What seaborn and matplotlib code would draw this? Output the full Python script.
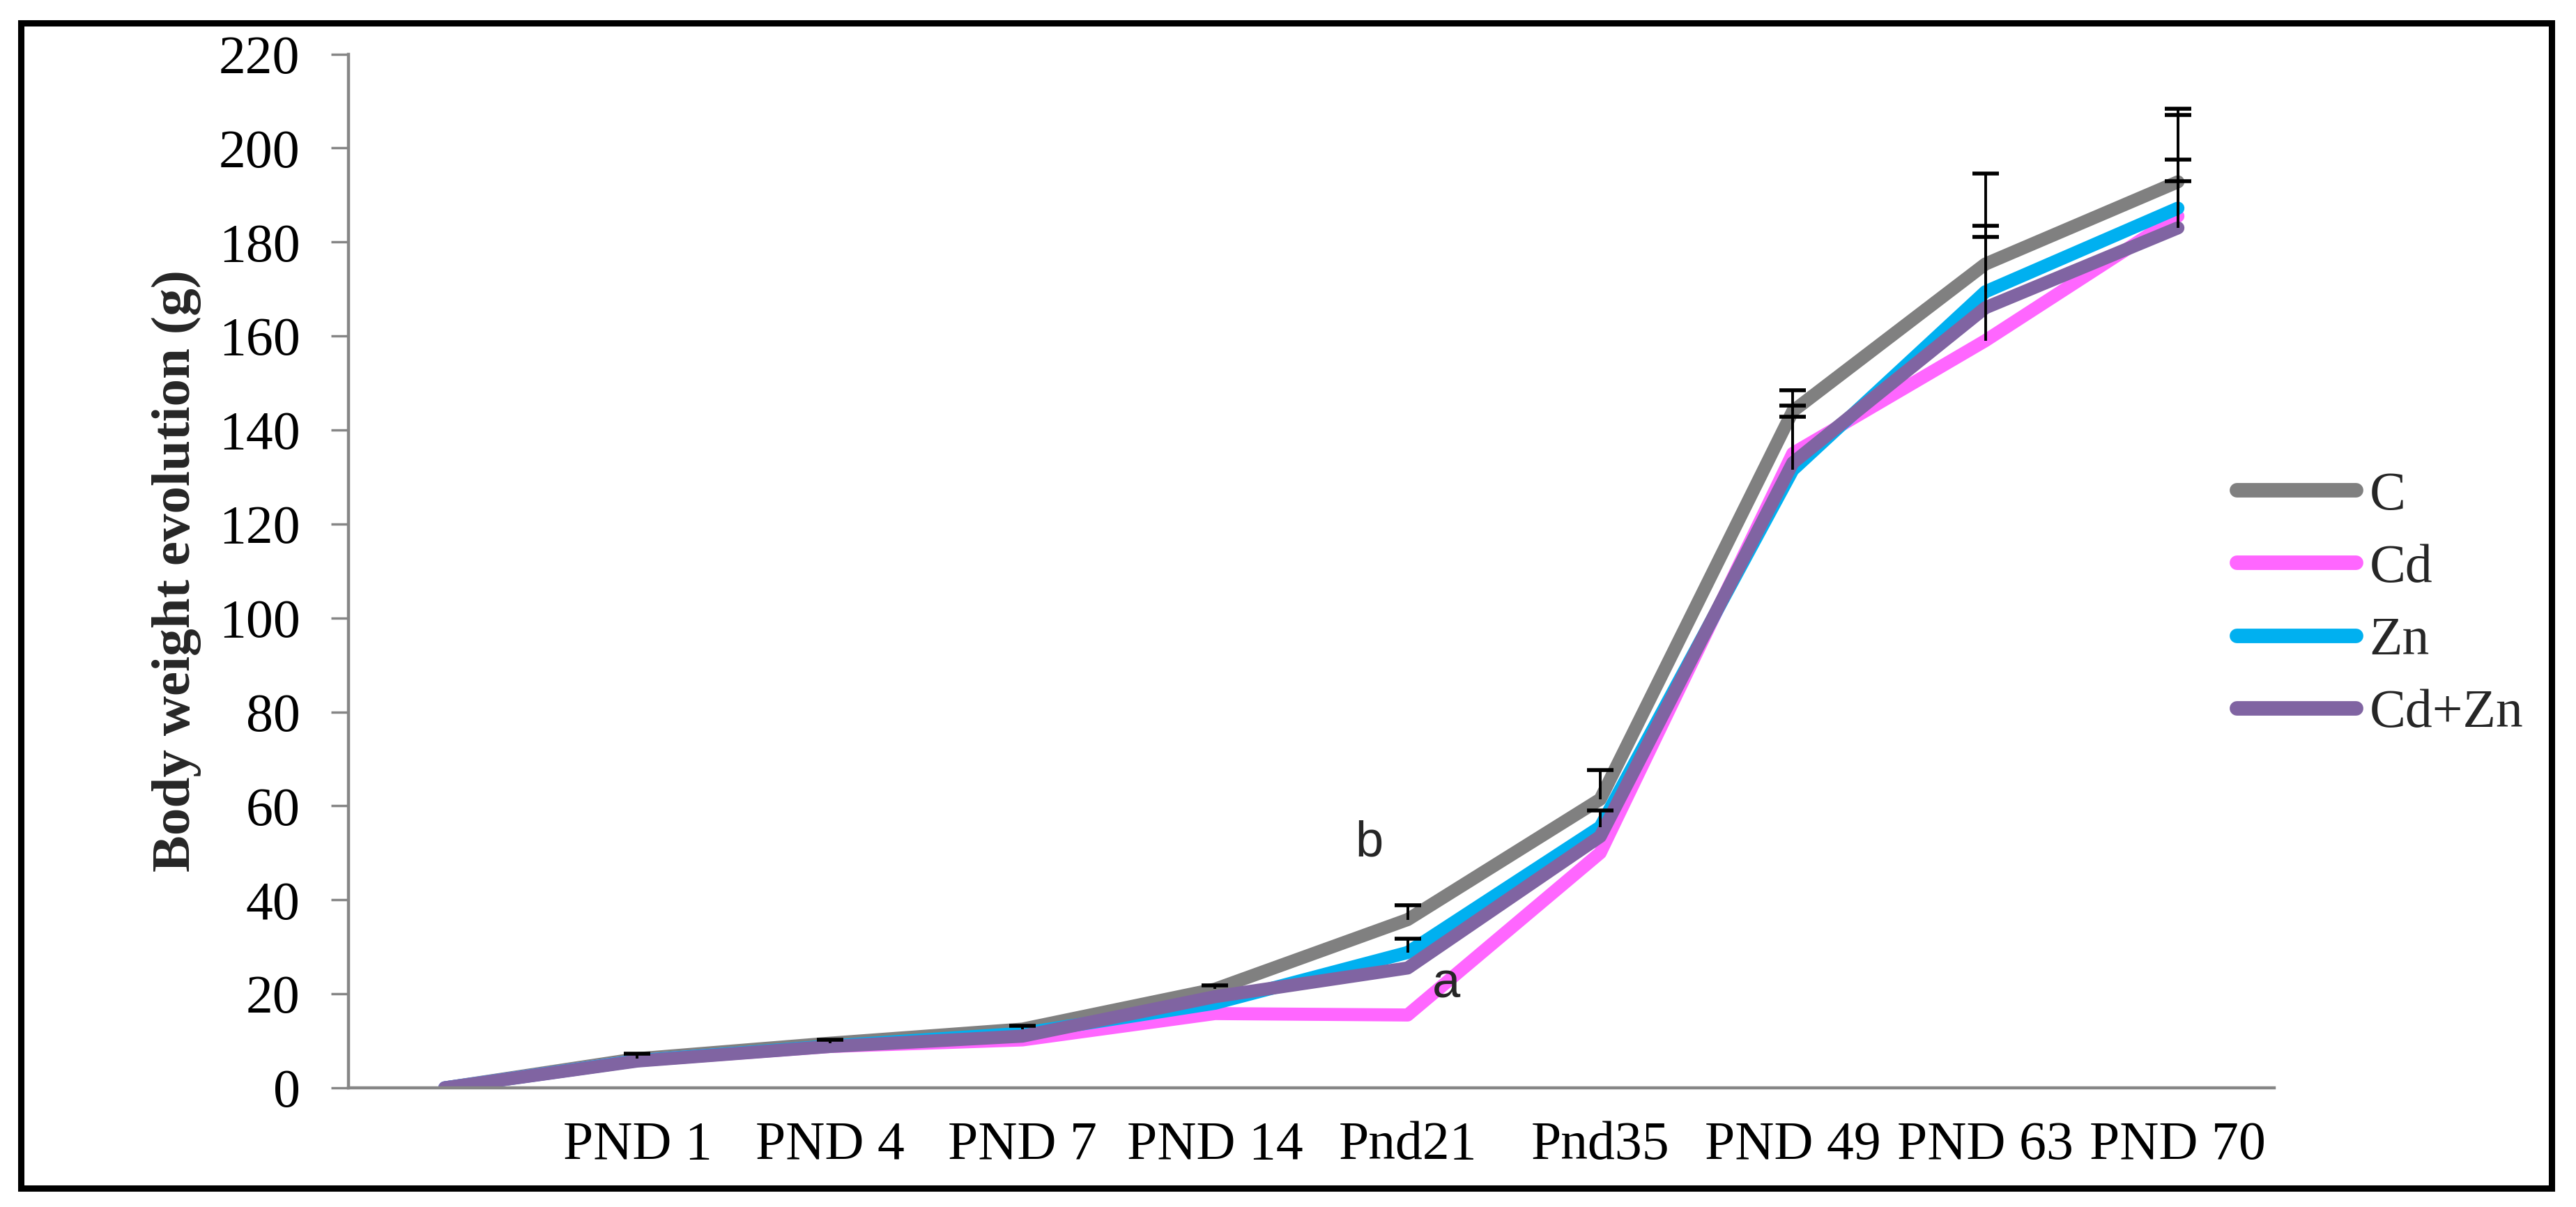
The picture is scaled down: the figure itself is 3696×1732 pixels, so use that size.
import numpy as np
import pandas as pd
import seaborn as sns
import matplotlib.pyplot as plt
from matplotlib.patches import Rectangle

# Values (body weight in g)
days = ['', 'PND 1', 'PND 4', 'PND 7', 'PND 14', 'Pnd21', 'Pnd35', 'PND 49', 'PND 63', 'PND 70']
groups = ['C', 'Cd', 'Zn', 'Cd+Zn']
c_vals = [0, 6.2, 9.5, 12.5, 21.0, 35.8, 61.4, 144.0, 175.3, 192.8]
cd_vals = [0, 5.8, 8.8, 10.2, 15.8, 15.5, 50.0, 135.0, 159.0, 185.5]
zn_vals = [0, 5.8, 8.9, 11.6, 18.0, 28.8, 55.5, 131.5, 169.4, 187.2]
cdzn_vals = [0, 5.7, 8.8, 11.0, 19.4, 25.5, 53.5, 133.0, 166.0, 183.0]
# upper error bars only (as in the original)
c_err = [0, 1.0, 0.8, 0.7, 0.8, 3.0, 6.2, 4.5, 19.2, 15.6]
cd_err = [0, 0, 0, 0, 0, 0, 0, 10.2, 22.0, 12.0]
zn_err = [0, 0, 0, 0, 0, 3.0, 3.5, 11.3, 14.0, 19.8]
cdzn_err = [0, 0, 0, 0, 0, 0, 0, 0, 0, 10.0]
colors = ['#808080', '#FF66FF', '#00B0F0', '#8064A2']

values = [c_vals, cd_vals, zn_vals, cdzn_vals]
errors = [c_err, cd_err, zn_err, cdzn_err]

df = pd.DataFrame({
    'pos': np.tile(np.arange(len(days)), len(groups)),
    'weight': np.concatenate(values),
    'group': np.repeat(groups, len(days)),
})

sns.set_style('white')
plt.rcParams['font.family'] = ['Liberation Serif', 'DejaVu Serif']

fig = plt.figure(figsize=(36.96, 17.32), dpi=100)
ax = fig.add_axes([500 / 3696, 171 / 1732, 2763 / 3696, 1483.5 / 1732])

sns.lineplot(data=df, x='pos', y='weight', hue='group', hue_order=groups,
             palette=colors, linewidth=13.5, ax=ax, legend=True,
             solid_joinstyle='round', solid_capstyle='round')

# plus-direction error bars
for vals, err in zip(values, errors):
    vals = np.array(vals)
    err = np.array(err)
    m = err > 0
    if not m.any():
        continue
    x = np.arange(len(days))[m]
    _, caps, _ = ax.errorbar(x, vals[m], yerr=[np.zeros(m.sum()), err[m]],
                             fmt='none', ecolor='black', elinewidth=2.8,
                             capsize=13.5, capthick=4.0, zorder=5)
    caps[0].set_visible(False)

ax.set_xlim(-0.5, len(days) - 0.5)
ax.set_ylim(0, 220)
ax.set_yticks(np.arange(0, 221, 20))
ax.set_xticks(np.arange(len(days)))
ax.set_xticklabels(days)
ax.set_xticks(np.arange(len(days) + 1) - 0.5, minor=True)

gray = '#868686'
for s in ['top', 'right']:
    ax.spines[s].set_visible(False)
for s in ['left', 'bottom']:
    ax.spines[s].set_color(gray)
    ax.spines[s].set_linewidth(3.2)

ax.tick_params(axis='x', which='major', length=0, pad=34, labelsize=56, labelcolor='black')
ax.tick_params(axis='x', which='minor', length=16, width=2.5, color=gray, direction='out')
ax.tick_params(axis='y', which='major', length=18, width=2.5, color=gray, direction='out',
               pad=32, labelsize=56, labelcolor='black', left=True)

ax.set_xlabel('')
ax.set_ylabel('Body weight evolution (g)', fontsize=57, fontweight='bold')
ax.yaxis.set_label_coords(-0.0764, 0.5)

# significance letters
ax.text(5.2, 22, 'a', fontsize=52, family='Liberation Sans', ha='center', va='center')
ax.text(4.8, 52, 'b', fontsize=52, family='Liberation Sans', ha='center', va='center')

handles, labels = ax.get_legend_handles_labels()
leg = ax.legend(handles, labels, loc='center left',
                bbox_to_anchor=(3209 / 3696, 864 / 1732), bbox_transform=fig.transFigure,
                frameon=False, fontsize=56, handlelength=2.2, handletextpad=0.25,
                labelspacing=0.42, borderpad=0, borderaxespad=0)
for h in leg.get_lines():
    h.set_linewidth(15)
    h.set_solid_capstyle('round')

# outer black frame
fig.patches.append(Rectangle((30 / 3696, 27 / 1732), 3631 / 3696, 1672 / 1732,
                             transform=fig.transFigure, fill=False,
                             edgecolor='black', linewidth=6.5))

plt.savefig('out.png', dpi=100)
